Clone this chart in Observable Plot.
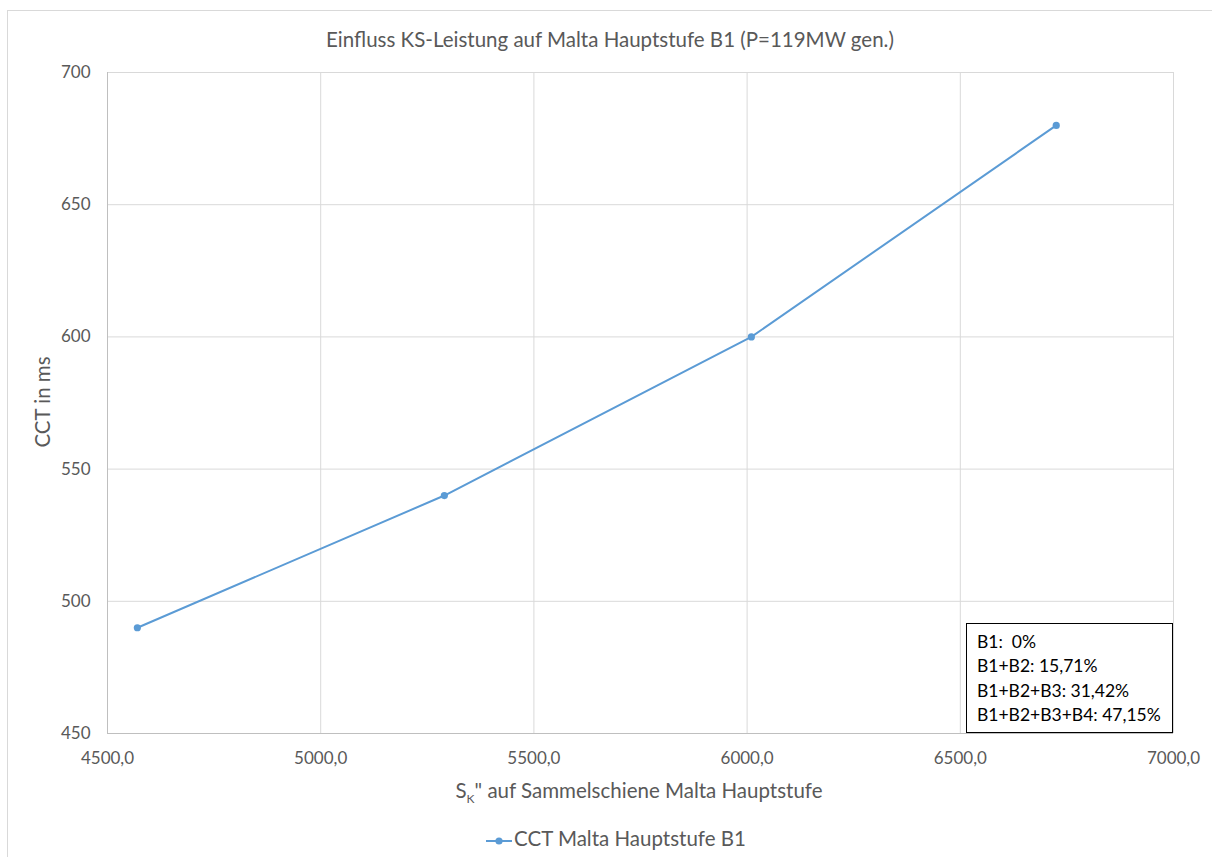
<!DOCTYPE html>
<html>
<head>
<meta charset="utf-8">
<script src="https://cdn.jsdelivr.net/npm/d3@7"></script>
<script src="https://cdn.jsdelivr.net/npm/@observablehq/plot@0.6"></script>
<style>
  html, body { margin: 0; padding: 0; background: #fff; overflow: hidden; }
  #wrap { position: relative; width: 1212px; height: 857px; overflow: hidden; font-family: Lato, "Open Sans", sans-serif; color: #595959; }
  #frame { position: absolute; left: 7px; top: 10px; width: 1300px; height: 900px; border: 1px solid #d9d9d9; box-sizing: border-box; }
  #title { position: absolute; left: 0; width: 1220px; top: 26px; text-align: center; font-size: 20.5px; line-height: 26px; }
  #chart { position: absolute; left: 0; top: 50px; }
  #ylabel { position: absolute; left: 42px; top: 402px; transform: translate(-50%, -50%) rotate(-90deg); font-size: 20.5px; line-height: 24px; white-space: nowrap; }
  #xlabel { position: absolute; left: 0; width: 1278px; top: 777px; text-align: center; font-size: 20.5px; line-height: 26px; }
  #xlabel sub { font-size: 12px; vertical-align: -5px; line-height: 0; }
  #legend { position: absolute; left: 0; width: 1232px; top: 825px; text-align: center; font-size: 20.5px; line-height: 26px; white-space: nowrap; }
  #legend svg { vertical-align: 0px; margin-right: 2px; }
  #note { position: absolute; left: 966px; top: 623px; width: 207px; height: 110px; box-sizing: border-box; border: 1.3px solid #000; background: #fff; color: #000; font-size: 17.5px; line-height: 24.3px; padding: 6px 0 0 10px; white-space: pre; }
</style>
</head>
<body>
<div id="wrap">
  <div id="frame"></div>
  <div id="title"></div>
  <div id="chart"></div>
  <div id="ylabel"></div>
  <div id="xlabel"></div>
  <div id="legend"></div>
  <div id="note"></div>
</div>
<script>
// ---- data ----
const titleText = "Einfluss KS-Leistung auf Malta Hauptstufe B1 (P=119MW gen.)";
const seriesName = "CCT Malta Hauptstufe B1";
const yLabel = "CCT in ms";
const xLabelMain = "S";
const xLabelSub = "K";
const xLabelRest = "\" auf Sammelschiene Malta Hauptstufe";
const skValues = [4570, 5290, 6010, 6725];
const cctValues = [490, 540, 600, 680];
const xTicks = [4500, 5000, 5500, 6000, 6500, 7000];
const yTicks = [450, 500, 550, 600, 650, 700];
const noteLines = ["B1:  0%", "B1+B2: 15,71%", "B1+B2+B3: 31,42%", "B1+B2+B3+B4: 47,15%"];

const data = skValues.map((x, i) => ({x, y: cctValues[i]}));
const fmtX = d => d.toFixed(1).replace(".", ",");
const blue = "#5b9bd5";

const plot = Plot.plot({
  width: 1212,
  height: 760,
  marginTop: 22,
  marginBottom: 77,
  marginLeft: 107,
  marginRight: 39,
  style: {fontFamily: "Lato, 'Open Sans', sans-serif", fontSize: "17px", color: "#595959", background: "transparent", overflow: "visible"},
  x: {domain: [4500, 7000]},
  y: {domain: [450, 700]},
  marks: [
    Plot.gridX(xTicks, {stroke: "#d9d9d9", strokeOpacity: 1, strokeWidth: 1}),
    Plot.gridY(yTicks, {stroke: "#d9d9d9", strokeOpacity: 1, strokeWidth: 1}),
    Plot.ruleX([4500], {stroke: "#bfbfbf", strokeWidth: 1}),
    Plot.ruleY([450], {stroke: "#bfbfbf", strokeWidth: 1}),
    Plot.axisX(xTicks, {tickSize: 0, tickPadding: 18, tickFormat: fmtX, label: null, fontSize: 17}),
    Plot.axisY(yTicks, {tickSize: 0, tickPadding: 17, label: null, fontSize: 17}),
    Plot.line(data, {x: "x", y: "y", stroke: blue, strokeWidth: 2}),
    Plot.dot(data, {x: "x", y: "y", fill: blue, r: 3.6})
  ]
});
document.getElementById("chart").appendChild(plot);

document.getElementById("title").textContent = titleText;
document.getElementById("ylabel").textContent = yLabel;
const xl = document.getElementById("xlabel");
xl.appendChild(document.createTextNode(xLabelMain));
const sub = document.createElement("sub"); sub.textContent = xLabelSub; xl.appendChild(sub);
xl.appendChild(document.createTextNode(xLabelRest));

const lg = document.getElementById("legend");
lg.innerHTML = `<svg width="26" height="10"><line x1="0" y1="5" x2="26" y2="5" stroke="${blue}" stroke-width="2"/><circle cx="13" cy="5" r="3.6" fill="${blue}"/></svg>`;
lg.appendChild(document.createTextNode(seriesName));

document.getElementById("note").textContent = noteLines.join("\n");
</script>
</body>
</html>
